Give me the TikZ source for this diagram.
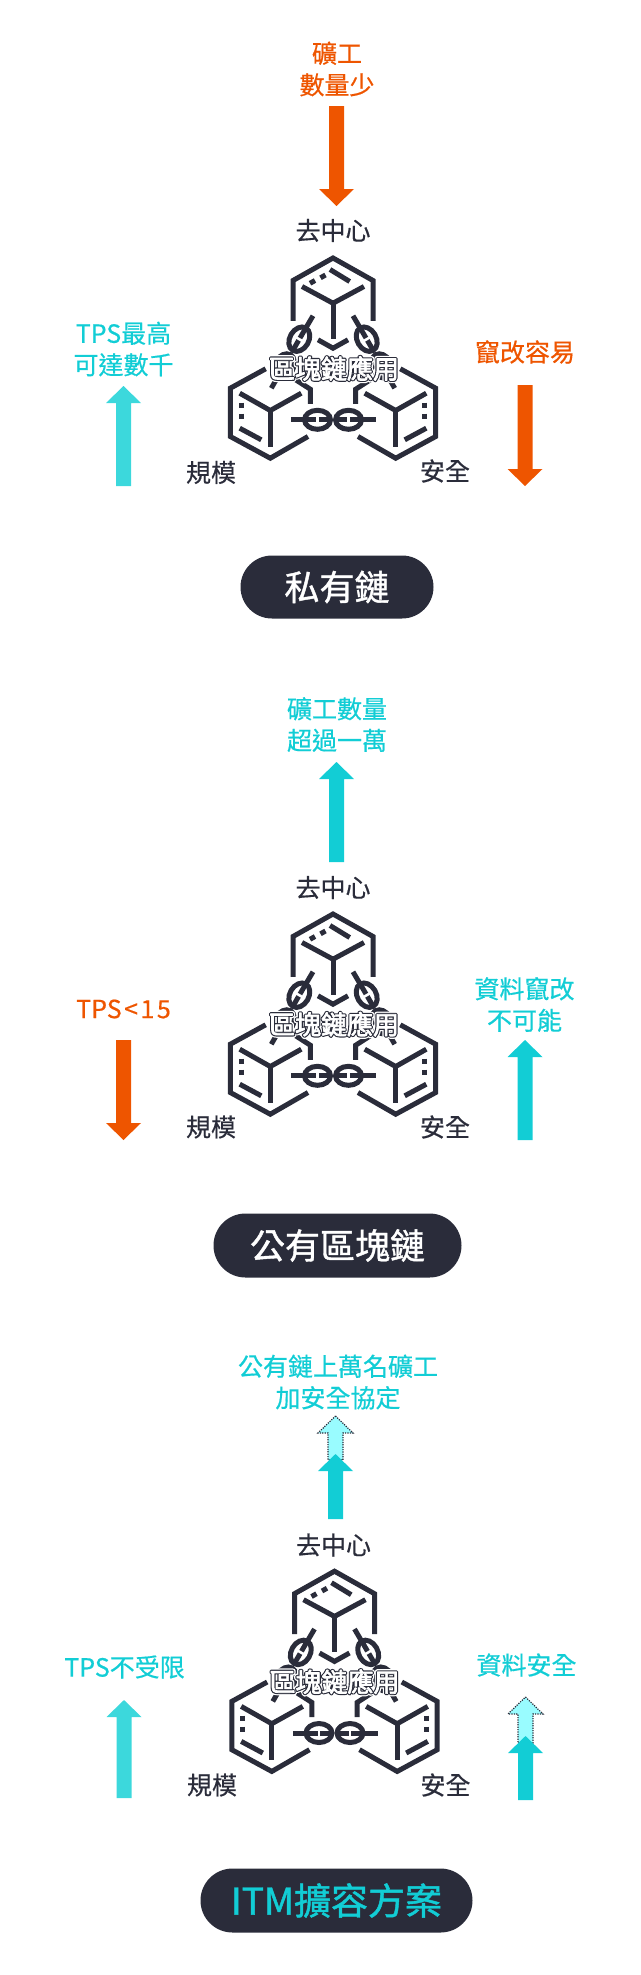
\documentclass[tikz,border=0pt]{standalone}
\usepackage{fontspec}
\setmainfont{Noto Sans CJK TC}
\newfontfamily\pillfont[FakeBold=1.2]{Noto Sans CJK TC}
\newfontfamily\wordfont[FakeBold=0.5]{Noto Sans CJK TC}
\usetikzlibrary{shapes.misc}
\definecolor{inkdark}{HTML}{2A2C3A}
\definecolor{orangeup}{HTML}{EE5500}
\definecolor{tealtext}{HTML}{12CDD5}
\definecolor{tealsoft}{HTML}{3CD8DC}
\definecolor{tealghost}{HTML}{99FCFF}
\newcommand{\halotext}[1]{\rlap{\special{pdf:code 1 Tr 1 j 5.4 w 1 1 1 RG}#1}\rlap{\special{pdf:code 1 Tr 1 j 3 w 0.165 0.172 0.227 RG}#1}\special{pdf:code 2 Tr 1 j 0.7 w 1 1 1 RG}#1\special{pdf:code 0 Tr}}
% block arrows: colour style, x, tip y, tail y
\newcommand{\uparrowblock}[4]{\path[#1] (#2,#3) -- ++(17.5,17) -- ++(-10,0) -- (#2+7.5,#4) -- (#2-7.5,#4) -- (#2-7.5,#3+17) -- ++(-10,0) -- cycle;}
\newcommand{\downarrowblock}[4]{\path[#1] (#2,#3) -- ++(17.5,-17) -- ++(-10,0) -- (#2+7.5,#4) -- (#2-7.5,#4) -- (#2-7.5,#3-17) -- ++(-10,0) -- cycle;}
\tikzset{
  word/.style={font=\fontsize{25}{31.5}\selectfont\wordfont,align=center,inner sep=0pt},
  inkword/.style={word,text=inkdark},
  redword/.style={word,text=orangeup},
  tealword/.style={word,text=tealtext},
  appword/.style={font=\fontsize{26}{31}\selectfont,inner sep=0pt,text=white},
  pill/.style={rounded rectangle,fill=inkdark,text=white,inner sep=0pt,font=\fontsize{35}{38}\selectfont\pillfont},
  cubeline/.style={draw=inkdark,line width=5pt},
  fillred/.style={fill=orangeup},
  fillsoft/.style={fill=tealsoft},
  fillteal/.style={fill=tealtext},
  fillghost/.style={fill=tealghost,draw=inkdark,line width=1.2pt,dash pattern=on 1.2pt off 1.2pt},
  chainlink/.pic={
    \draw[cubeline] (0,0) ellipse (13 and 9.5);
    \draw[cubeline] (-12,0) -- (-1.4,0);
    \draw[cubeline] (1.4,0) -- (12,0);
  },
  chainicon/.pic={
    \draw[cubeline] (-40,64.3) -- (-40,24) -- (0,1.5) -- (40,24) -- (40,64.3);
    \draw[cubeline] (-31,30) -- (0,46.7) -- (31,30);
    \draw[cubeline] (0,46.7) -- (0,82.7);
    \draw[cubeline] (-23,26.8) -- (-18,24);
    \draw[cubeline] (-12.5,21.3) -- (-7.5,18.5);
    \draw[cubeline] (-3,13) -- (16.7,25);
    \draw[cubeline] (-15,83.3) -- (0,91.7) -- (15,83.3);
    \foreach \sx in {1,-1} {
      \begin{scope}[xscale=\sx]
        \draw[cubeline] (-67.3,112.3) -- (-102.7,131.7) -- (-102.7,180) -- (-62.7,201.7) -- (-25,180);
        \draw[cubeline] (-93.3,136.7) -- (-62.7,154) -- (-31.7,136.7);
        \draw[cubeline] (-62.7,154) -- (-62.7,190);
        \draw[cubeline] (-91.7,146) -- (-91.7,151.5);
        \draw[cubeline] (-91.7,157) -- (-91.7,162.5);
        \draw[cubeline] (-93.3,171.7) -- (-71.7,183.3);
        \draw[cubeline] (-37.3,123.3) -- (-22.7,132.7) -- (-22.7,147.3);
        \draw[cubeline] (-20,59.3) -- (-26.7,70.7);
        \draw[cubeline] (-56.7,123) -- (-61.7,131.7);
      \end{scope}
      \pic[rotate=60*\sx] at (-33.7*\sx,82.7) {chainlink};
      \pic[rotate=60*\sx] at (-49*\sx,109.5) {chainlink};
    }
    \draw[cubeline] (-41.6,163.3) -- (-27,163.3);
    \draw[cubeline] (27,163.3) -- (43.4,163.3);
    \pic at (-15.5,163.3) {chainlink};
    \pic at (15.5,163.3) {chainlink};
  }
}
\begin{document}
\begin{tikzpicture}[x=1pt,y=-1pt]
  \useasboundingbox (0,0) rectangle (640,1975);
  % private chain
  \node[redword] (miner1) at (337,69) {礦工\\數量少};
  \downarrowblock{fillred}{336.5}{206}{106}
  \node[inkword] (decent1) at (333,230.5) {去中心};
  \pic at (333,256.5) {chainicon};
  \node[word,appword] (app1) at (334,368.5) {\halotext{區塊鏈應用}};
  \node[tealword] (tps1) at (123.5,349) {TPS最高\\可達數千};
  \uparrowblock{fillsoft}{123.5}{386}{486}
  \node[redword] (safe1) at (525,352) {竄改容易};
  \downarrowblock{fillred}{525}{486}{385}
  \node[inkword] (scale1) at (211,472.5) {規模};
  \node[inkword] (secure1) at (445,471) {安全};
  \node[pill,minimum width=193,minimum height=63] (title1) at (337,587) {私有鏈};
  % public chain
  \node[tealword] (miner2) at (337,724.5) {礦工數量\\超過一萬};
  \uparrowblock{fillteal}{336.5}{762}{862}
  \node[inkword] (decent2) at (333,887.5) {去中心};
  \pic at (333,912.5) {chainicon};
  \node[word,appword] (app2) at (334,1024.2) {\halotext{區塊鏈應用}};
  \node[redword] (tps2) at (123.5,1009) {TPS\kern2.5pt<\kern2.5pt1\kern2.5pt5};
  \downarrowblock{fillred}{123.5}{1140}{1040}
  \node[tealword] (safe2) at (524.5,1004.5) {資料竄改\\不可能};
  \uparrowblock{fillteal}{525}{1040}{1140}
  \node[inkword] (scale2) at (211,1127) {規模};
  \node[inkword] (secure2) at (445,1127) {安全};
  \node[pill,minimum width=248,minimum height=64] (title2) at (337.5,1245.5) {公有區塊鏈};
  % itm scaling
  \node[tealword] (miner3) at (338,1382) {公有鏈上萬名礦工\\加安全協定};
  \uparrowblock{fillghost}{335.5}{1416}{1460}
  \uparrowblock{fillteal}{335.5}{1454}{1519}
  \node[inkword] (decent3) at (333.5,1545) {去中心};
  \pic at (334.5,1569.7) {chainicon};
  \node[word,appword] (app3) at (334.5,1681.7) {\halotext{區塊鏈應用}};
  \node[tealword] (tps3) at (124.5,1667) {TPS不受限};
  \uparrowblock{fillsoft}{124}{1700}{1798}
  \node[tealword] (safe3) at (526.5,1665) {資料安全};
  \uparrowblock{fillghost}{525.5}{1697}{1743}
  \uparrowblock{fillteal}{525.5}{1736}{1800}
  \node[inkword] (scale3) at (212,1785) {規模};
  \node[inkword] (secure3) at (445.5,1785) {安全};
  \node[pill,text=tealtext,minimum width=272,minimum height=64,font=\fontsize{37}{38}\selectfont\pillfont] (title3) at (336.5,1900.5) {ITM擴容方案};
\end{tikzpicture}
\end{document}
